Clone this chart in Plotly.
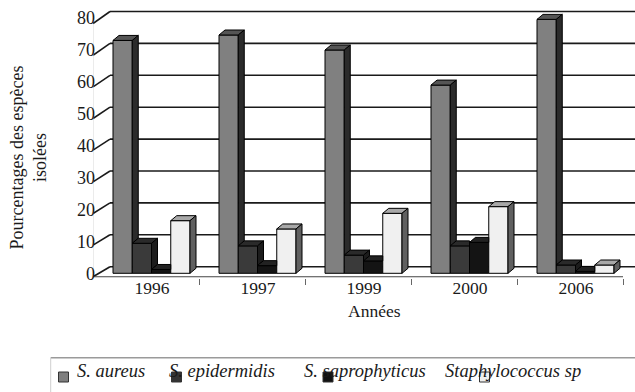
import plotly.graph_objects as go

# ---- data -----------------------------------------------------------------
years = ["1996", "1997", "1999", "2000", "2006"]
species = ["S. aureus", "S. epidermidis", "S. saprophyticus", "Staphylococcus sp"]
aureus = [73.0, 74.7, 70.0, 59.0, 79.6]
epidermidis = [9.4, 8.6, 5.7, 8.6, 2.6]
saprophyticus = [1.2, 2.4, 3.9, 9.7, 0.6]
staph_sp = [16.5, 13.9, 18.8, 20.9, 2.6]
y_ticks = [0, 10, 20, 30, 40, 50, 60, 70, 80]

series = [aureus, epidermidis, saprophyticus, staph_sp]

# ---- styling --------------------------------------------------------------
front_col = ["#808080", "#3a3a3a", "#141414", "#f0f0f0"]
top_col = ["#555555", "#2a2a2a", "#222222", "#a8a8a8"]
side_col = ["#2b2b2b", "#1c1c1c", "#0a0a0a", "#606060"]
legend_col = ["#7f7f7f", "#333333", "#111111", "#eeeeee"]
SERIF = "Liberation Serif, Times New Roman, serif"
INK = "#1a1a1a"

# ---- geometry of the pseudo-3D frame -------------------------------------
W, H = 635, 392
PX_X = 106.0            # pixels per category
PX_Y = 3.19             # pixels per percent
LEFT_PX = 93            # left edge of the plotting area
BOTTOM_PX = 277.5       # bottom edge of the plotting area
ZERO_PX = 273.3         # where 0 % sits for the bars
x_range = [-0.5, -0.5 + (W - LEFT_PX) / PX_X]
y_range = [-(BOTTOM_PX - ZERO_PX) / PX_Y, ZERO_PX / PX_Y]

bar_w = 19.25 / PX_X
first_off = -33.0 / PX_X
dx = 6.0 / PX_X          # bar depth, horizontal
dy = 5.0 / PX_Y          # bar depth, vertical
wall_dx = 17.0 / PX_X    # floor depth to the back wall
back_off = (ZERO_PX - 266.7) / PX_Y
FRONT0_PX, FRONT_SCALE = 276.8, 3.165


def front_val(v):
    return (ZERO_PX - FRONT0_PX + FRONT_SCALE * v) / PX_Y


fig = go.Figure()

# front faces of the bars
for i, vals in enumerate(series):
    fig.add_trace(go.Bar(
        x=list(range(len(years))), y=vals, width=bar_w,
        offset=first_off + i * bar_w, name=species[i],
        marker=dict(color=front_col[i], line=dict(color="#000", width=1)),
        showlegend=False, hoverinfo="skip"))

# top and side faces
for i, vals in enumerate(series):
    tx, ty, sx, sy = [], [], [], []
    for k, v in enumerate(vals):
        x0 = k + first_off + i * bar_w
        x1 = x0 + bar_w
        nxt = series[i + 1][k] if i < len(series) - 1 else None
        if nxt is not None and nxt > v:
            tx += [x0, x1, x1, x0 + dx, x0, None]
            ty += [v, v, v + dy, v + dy, v, None]
        else:
            tx += [x0, x1, x1 + dx, x0 + dx, x0, None]
            ty += [v, v, v + dy, v + dy, v, None]
        low = 0 if nxt is None else nxt
        if nxt is None or nxt < v:
            sx += [x1, x1, x1 + dx, x1 + dx, x1, None]
            sy += [low, v, v + dy, low + dy, low, None]
    fig.add_trace(go.Scatter(x=tx, y=ty, mode="lines", fill="toself",
                             fillcolor=top_col[i], line=dict(color="#000", width=1),
                             showlegend=False, hoverinfo="skip"))
    if sx:
        fig.add_trace(go.Scatter(x=sx, y=sy, mode="lines", fill="toself",
                                 fillcolor=side_col[i], line=dict(color="#000", width=1),
                                 showlegend=False, hoverinfo="skip"))

# back-wall gridlines and the slanted left wall edges
shapes = []
for t in y_ticks:
    shapes.append(dict(type="line", layer="below", xref="x", yref="y",
                       x0=-0.5 + wall_dx, x1=x_range[1], y0=t + back_off, y1=t + back_off,
                       line=dict(color=INK, width=1.6)))
    shapes.append(dict(type="line", layer="below", xref="x", yref="y",
                       x0=-0.5, x1=-0.5 + wall_dx, y0=front_val(t), y1=t + back_off,
                       line=dict(color=INK, width=1.6)))
# faint front edge on the left and the front floor edge
shapes.append(dict(type="line", layer="below", xref="x", yref="y",
                   x0=-0.5, x1=-0.5, y0=front_val(0), y1=front_val(y_ticks[-1]),
                   line=dict(color="#d8d8d8", width=1)))
shapes.append(dict(type="line", layer="below", xref="x", yref="y",
                   x0=-0.5, x1=len(years) - 0.5, y0=front_val(0), y1=front_val(0),
                   line=dict(color="#444", width=1.2)))


# legend frame and swatches (figure pixel helpers)
def px(xp):
    return xp / W


def py(yp):
    return 1 - yp / H


shapes.append(dict(type="line", xref="paper", yref="paper",
                   x0=px(50.7), x1=1, y0=py(357.7), y1=py(357.7),
                   line=dict(color="#9a9a9a", width=1.5)))
shapes.append(dict(type="line", xref="paper", yref="paper",
                   x0=px(50.7), x1=px(50.7), y0=py(357.7), y1=py(H),
                   line=dict(color="#cfcfcf", width=1)))
swatch_x = [63.5, 176.5, 328, 484.5]
text_x = [75, 167, 302, 443]
annotations = []
for i, name in enumerate(species):
    shapes.append(dict(type="rect", xref="paper", yref="paper",
                       x0=px(swatch_x[i] - 5), x1=px(swatch_x[i] + 5),
                       y0=py(382), y1=py(372),
                       fillcolor=legend_col[i], line=dict(color="#333", width=1)))
    annotations.append(dict(xref="paper", yref="paper", x=px(text_x[i]), y=py(370.5),
                            xanchor="left", yanchor="middle", showarrow=False,
                            text=f"<i>{name}</i>",
                            font=dict(family=SERIF, size=18.5, color=INK)))

annotations.append(dict(xref="paper", yref="paper", x=px(28), y=py(157.5),
                        textangle=-90, showarrow=False, xanchor="center", yanchor="middle",
                        text="Pourcentages des espèces<br>isolées",
                        font=dict(family=SERIF, size=18, color=INK)))
annotations.append(dict(xref="paper", yref="paper", x=px(374), y=py(311),
                        showarrow=False, xanchor="center", yanchor="middle",
                        text="Années", font=dict(family=SERIF, size=17.5, color=INK)))

fig.update_layout(
    width=W, height=H, margin=dict(l=0, r=0, t=0, b=0, pad=0, autoexpand=False),
    paper_bgcolor="white", plot_bgcolor="white", showlegend=False,
    barmode="overlay", shapes=shapes, annotations=annotations,
    xaxis=dict(domain=[px(LEFT_PX), 1], range=x_range, showgrid=False, zeroline=False,
               showline=False, automargin=False, tickmode="array",
               tickvals=[k + 6.0 / PX_X for k in range(len(years))], ticktext=years,
               ticks="", ticklabelstandoff=-2,
               tickfont=dict(family=SERIF, size=17.5, color=INK),
               minor=dict(tickmode="array", tickvals=[k + 0.5 for k in range(len(years))],
                          ticks="outside", ticklen=6, tickcolor="#666", tickwidth=1,
                          showgrid=False)),
    yaxis=dict(domain=[py(BOTTOM_PX), 1], range=y_range, showgrid=False, zeroline=False,
               showline=False, automargin=False, tickmode="array", tickvals=y_ticks,
               ticktext=[str(t) for t in y_ticks], ticks="", ticklabelstandoff=-3,
               tickfont=dict(family=SERIF, size=18, color=INK)),
)

fig.write_html("out.html")
